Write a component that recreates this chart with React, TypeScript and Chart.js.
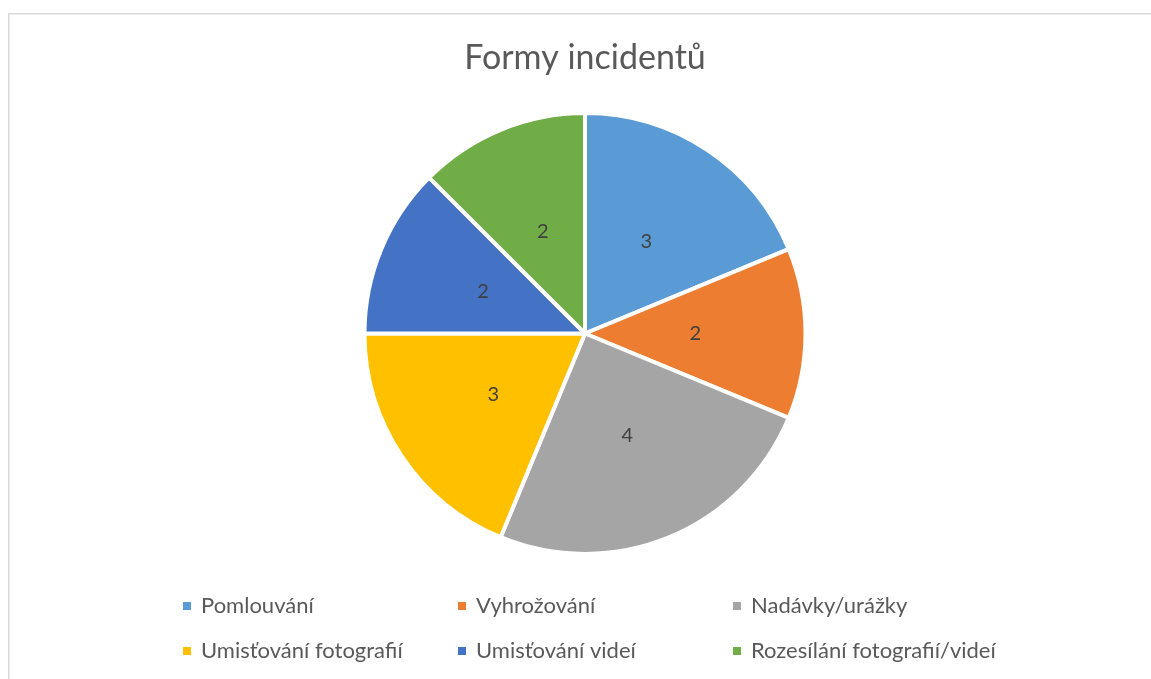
import React, { useEffect, useRef } from "react";
import { Chart, registerables } from "chart.js";

Chart.register(...registerables);

const titleText = "Formy incidentů";
const categories = [
  "Pomlouvání",
  "Vyhrožování",
  "Nadávky/urážky",
  "Umisťování fotografií",
  "Umisťování videí",
  "Rozesílání fotografií/videí",
];
const values = [3, 2, 4, 3, 2, 2];
const colors = ["#5B9BD5", "#ED7D31", "#A5A5A5", "#FFC000", "#4472C4", "#70AD47"];

const FONT = "Lato, 'Open Sans', sans-serif";

const decorPlugin = {
  id: "decor",
  beforeDraw(chart: any) {
    const ctx = chart.ctx;
    ctx.save();
    ctx.fillStyle = "#ffffff";
    ctx.fillRect(0, 0, chart.width, chart.height);
    ctx.strokeStyle = "#d9d9d9";
    ctx.lineWidth = 1.5;
    ctx.beginPath();
    ctx.moveTo(8.75, chart.height);
    ctx.lineTo(8.75, 13.75);
    ctx.lineTo(chart.width, 13.75);
    ctx.stroke();
    ctx.restore();
  },
  afterDraw(chart: any) {
    const ctx = chart.ctx;
    ctx.save();
    // title
    ctx.fillStyle = "#595959";
    ctx.font = `34px ${FONT}`;
    ctx.textAlign = "center";
    ctx.textBaseline = "alphabetic";
    ctx.fillText(titleText, 585, 69);

    // data labels
    const meta = chart.getDatasetMeta(0);
    ctx.fillStyle = "#404040";
    ctx.font = `20px ${FONT}`;
    ctx.textBaseline = "middle";
    meta.data.forEach((arc: any, i: number) => {
      const p = arc.tooltipPosition();
      ctx.fillText(String(values[i]), p.x, p.y);
    });

    // legend
    const colX = [183, 458, 733];
    const rowY = [606, 651];
    ctx.font = `22px ${FONT}`;
    ctx.textAlign = "left";
    categories.forEach((label, i) => {
      const c = i % 3;
      const r = Math.floor(i / 3);
      const x = colX[c];
      const y = rowY[r];
      ctx.fillStyle = colors[i];
      ctx.fillRect(x, y - 4, 8, 8);
      ctx.fillStyle = "#595959";
      ctx.fillText(label, x + 18, y);
    });
    ctx.restore();
  },
};

export default function App() {
  const ref = useRef<HTMLCanvasElement | null>(null);
  useEffect(() => {
    if (!ref.current) return;
    const chart = new Chart(ref.current, {
      type: "pie",
      data: {
        labels: categories,
        datasets: [
          {
            data: values,
            backgroundColor: colors,
            borderColor: "#ffffff",
            borderWidth: 4,
          },
        ],
      },
      options: {
        animation: false,
        responsive: false,
        events: [],
        layout: { padding: { left: 119, right: 100, top: 111, bottom: 123 } },
        plugins: {
          legend: { display: false },
          title: { display: false },
          tooltip: { enabled: false },
        },
      },
      plugins: [decorPlugin],
    });
    return () => chart.destroy();
  }, []);
  return (
    <div style={{ position: "fixed", left: 0, top: 0, width: 1151, height: 679, background: "#fff" }}>
      <canvas ref={ref} width={1151} height={679} style={{ display: "block" }} />
    </div>
  );
}
